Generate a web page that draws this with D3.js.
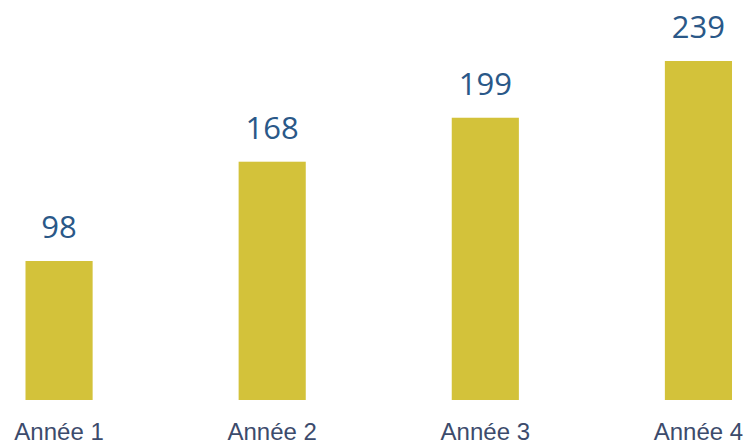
<!DOCTYPE html>
<html>
<head>
<meta charset="utf-8">
<script src="https://cdn.jsdelivr.net/npm/d3@7"></script>
<style>
html,body{margin:0;padding:0;background:#fff;overflow:hidden;}
</style>
</head>
<body>
<svg id="chart" width="752" height="445"></svg>
<script>
const categories = ["Année 1", "Année 2", "Année 3", "Année 4"];
const values = [98, 168, 199, 239];

const svg = d3.select("#chart");
const x = d3.scaleBand().domain(categories).range([-47.5, 805]).paddingInner(0.685).paddingOuter(0.3425);
const y = d3.scaleLinear().domain([0, 239]).range([400, 61]);

svg.selectAll("rect.bar").data(values).join("rect")
  .attr("class", "bar")
  .attr("x", (d, i) => x(categories[i]))
  .attr("width", x.bandwidth())
  .attr("y", d => y(d))
  .attr("height", d => y(0) - y(d))
  .attr("fill", "#d3c23a");

svg.selectAll("text.val").data(values).join("text")
  .attr("class", "val")
  .attr("x", (d, i) => x(categories[i]) + x.bandwidth() / 2)
  .attr("y", d => y(d) - 23)
  .attr("text-anchor", "middle")
  .attr("font-family", "'Open Sans', sans-serif")
  .attr("font-size", 31)
  .attr("fill", "#2a5888")
  .text(d => d);

const axis = d3.axisBottom(x).tickSize(0).tickPadding(0);
const g = svg.append("g").attr("transform", "translate(0,400)").call(axis);
g.select(".domain").remove();
g.selectAll("text")
  .attr("y", 39.5)
  .attr("dy", null)
  .attr("font-family", "'Liberation Sans', Arial, sans-serif")
  .attr("font-size", 24)
  .attr("fill", "#3c4b6c");
</script>
</body>
</html>
